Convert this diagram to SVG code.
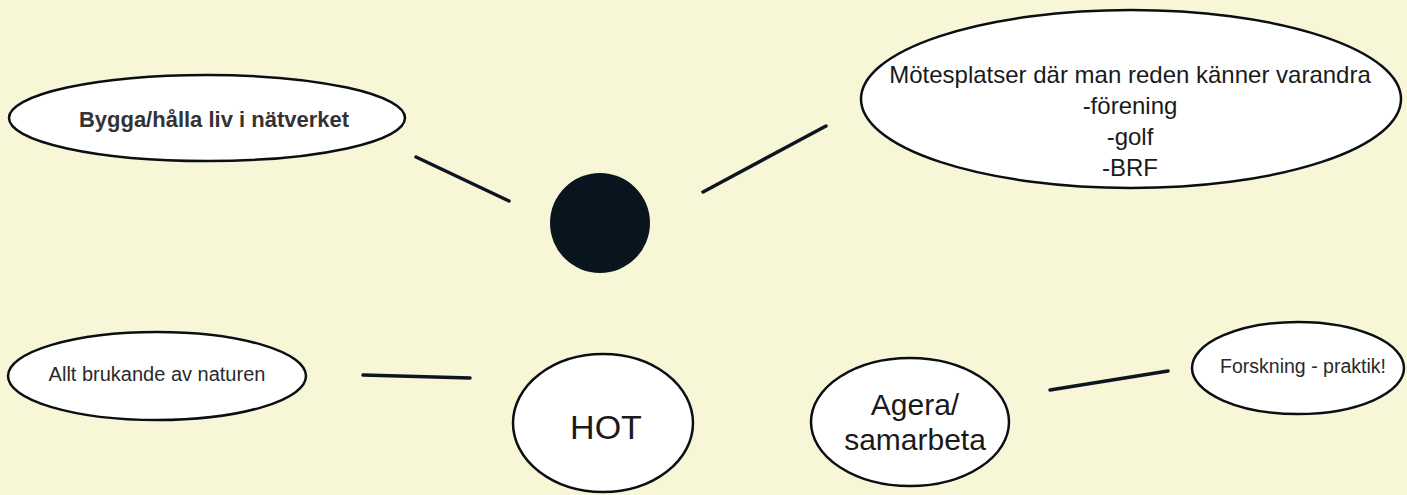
<svg xmlns="http://www.w3.org/2000/svg" width="1407" height="495" viewBox="0 0 1407 495">
<style>
.node{fill:#ffffff;stroke:#0b0f14;stroke-width:2.5}
.t{font-family:"Liberation Sans",Arial,sans-serif;fill:#1a1a1a;text-anchor:middle}
.conn line{stroke:#0d1520;stroke-width:3.5;stroke-linecap:round}
</style>
<rect x="0" y="0" width="1407" height="495" fill="#f7f7d8"/>
<g id="connectors" class="conn">
<line x1="416" y1="157" x2="509" y2="201"/>
<line x1="703" y1="192" x2="826" y2="126"/>
<line x1="363" y1="375" x2="470" y2="378"/>
<line x1="1050" y1="390" x2="1168" y2="371"/>
</g>
<g id="center">
<circle cx="600" cy="223" r="50" fill="#08151f"/>
</g>
<g id="bygga">
<ellipse class="node" cx="207" cy="118" rx="198" ry="43"/>
<text class="t" x="214" y="127" font-size="22" font-weight="bold" style="fill:#333333">Bygga/hålla liv i nätverket</text>
</g>
<g id="motesplatser">
<ellipse class="node" cx="1131" cy="99" rx="270" ry="89"/>
<text class="t" x="1130" y="83" font-size="24">Mötesplatser där man reden känner varandra</text>
<text class="t" x="1130" y="114" font-size="24">-förening</text>
<text class="t" x="1130" y="145" font-size="24">-golf</text>
<text class="t" x="1130" y="176" font-size="24">-BRF</text>
</g>
<g id="allt">
<ellipse class="node" cx="157" cy="376" rx="149" ry="44"/>
<text class="t" x="157" y="381" font-size="20" style="fill:#2a2a2a">Allt brukande av naturen</text>
</g>
<g id="hot">
<ellipse class="node" cx="603" cy="423" rx="90" ry="69"/>
<text class="t" x="606" y="439" font-size="34">HOT</text>
</g>
<g id="agera">
<ellipse class="node" cx="910" cy="422" rx="99" ry="64"/>
<text class="t" x="915" y="415" font-size="30">Agera/</text>
<text class="t" x="915" y="450" font-size="30">samarbeta</text>
</g>
<g id="forskning">
<ellipse class="node" cx="1298" cy="368" rx="106" ry="46"/>
<text class="t" x="1303" y="373" font-size="19.5" style="fill:#2a2a2a">Forskning - praktik!</text>
</g>
</svg>
